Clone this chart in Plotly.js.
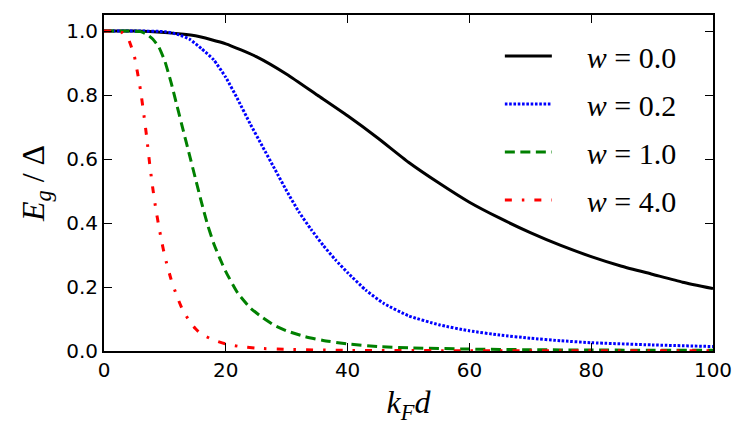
<!DOCTYPE html>
<html>
<head>
<meta charset="utf-8">
<script src="https://cdn.plot.ly/plotly-3.0.1.min.js"></script>
<style>
  html, body { margin: 0; padding: 0; background: #fff; }
  #chart { width: 747px; height: 439px; }
</style>
</head>
<body>
<div id="chart"></div>
<script>
// Gap energy vs k_F d
const labels = ['<i>w</i> = 0.0', '<i>w</i> = 0.2', '<i>w</i> = 1.0', '<i>w</i> = 4.0'];

const x00 = [0, 5, 10, 15, 20, 25, 30, 35, 40, 45, 50, 55, 60, 65, 70, 75, 80, 85, 90, 95, 100];
const y00 = [1.0, 1.0, 0.995, 0.985, 0.96, 0.92, 0.865, 0.80, 0.735, 0.665, 0.59, 0.525, 0.465, 0.415, 0.37, 0.33, 0.295, 0.265, 0.24, 0.215, 0.195];

const x02 = [0, 5, 10, 12, 14, 16, 18, 20, 22, 24, 26, 28, 30, 32, 34, 36, 38, 40, 43, 46, 50, 55, 60, 65, 70, 75, 80, 90, 100];
const y02 = [1.0, 1.0, 0.998, 0.99, 0.975, 0.945, 0.91, 0.855, 0.785, 0.71, 0.64, 0.57, 0.5, 0.435, 0.38, 0.33, 0.285, 0.245, 0.19, 0.148, 0.11, 0.082, 0.063, 0.05, 0.04, 0.032, 0.026, 0.019, 0.014];

const x10 = [0, 4, 6, 7, 8, 9, 10, 11, 12, 13, 14, 15, 16, 17, 18, 19, 20, 22, 24, 26, 28, 30, 33, 36, 40, 45, 50, 60, 70, 80, 100];
const y10 = [1.0, 1.0, 0.998, 0.99, 0.975, 0.95, 0.905, 0.84, 0.765, 0.69, 0.615, 0.54, 0.465, 0.395, 0.337, 0.29, 0.248, 0.18, 0.135, 0.105, 0.08, 0.063, 0.045, 0.033, 0.022, 0.014, 0.01, 0.006, 0.004, 0.003, 0.002];

const x40 = [0, 2, 3, 4, 4.5, 5, 5.5, 6, 6.5, 7, 7.5, 8, 8.5, 9, 9.5, 10, 11, 12, 13, 14, 15, 16, 18, 20, 22, 25, 30, 40, 60, 100];
const y40 = [1.0, 1.0, 0.995, 0.975, 0.95, 0.92, 0.87, 0.815, 0.745, 0.67, 0.585, 0.51, 0.445, 0.39, 0.34, 0.295, 0.225, 0.17, 0.125, 0.095, 0.07, 0.053, 0.034, 0.022, 0.015, 0.009, 0.005, 0.002, 0.001, 0.0005];

const xTicks = [0, 20, 40, 60, 80, 100];
const yTicks = [0.0, 0.2, 0.4, 0.6, 0.8, 1.0];

function curve(x, y, name, color, width, dash, group) {
    return {
        x: x, y: y, name: '&nbsp;&nbsp;&nbsp;&nbsp;' + name, type: 'scatter', mode: 'lines',
        line: { color: color, width: width, dash: dash, shape: 'spline', smoothing: 0.5 },
        legendgroup: group
    };
}

const data = [
    curve(x00, y00, labels[0], '#000000', 3, 'solid', 'a'),
    curve(x02, y02, labels[1], '#0000ff', 3, '2.6px,1.7px', 'b'),
    curve(x10, y10, labels[2], '#008000', 3, '10px,5.5px', 'c'),
    curve(x40, y40, labels[3], '#ff0000', 3, '7px,10px,2.5px,10px', 'd')
];

const axisCommon = {
    showline: true, mirror: 'ticks', linecolor: '#000', linewidth: 2,
    ticks: 'inside', ticklen: 8, tickwidth: 1, tickcolor: '#000',
    showgrid: false, zeroline: false,
    tickfont: { family: 'DejaVu Sans', size: 20, color: '#000' }
};

const layout = {
    width: 747, height: 439,
    margin: { l: 104, r: 34, t: 15, b: 88 },
    paper_bgcolor: '#fff', plot_bgcolor: '#fff',
    xaxis: Object.assign({}, axisCommon, {
        range: [0, 100], tickvals: xTicks, ticktext: xTicks.map(String),
        title: { text: '<i>k<sub>F</sub>d</i>', font: { family: 'Liberation Serif', size: 32, color: '#000' }, standoff: 10 }
    }),
    yaxis: Object.assign({}, axisCommon, {
        range: [0, 1.05], tickvals: yTicks, ticktext: yTicks.map(v => v.toFixed(1)),
        title: { text: '<i>E<sub>g</sub></i> / Δ', font: { family: 'Liberation Serif', size: 32, color: '#000' }, standoff: 12 }
    }),
    showlegend: true,
    legend: {
        x: 0.65, y: 0.955, xanchor: 'left', yanchor: 'top',
        bgcolor: 'rgba(0,0,0,0)', borderwidth: 0,
        font: { family: 'Liberation Serif', size: 30, color: '#000' },
        itemwidth: 47, tracegroupgap: 6, traceorder: 'grouped'
    }
};

Plotly.newPlot('chart', data, layout, { staticPlot: true });
</script>
</body>
</html>
